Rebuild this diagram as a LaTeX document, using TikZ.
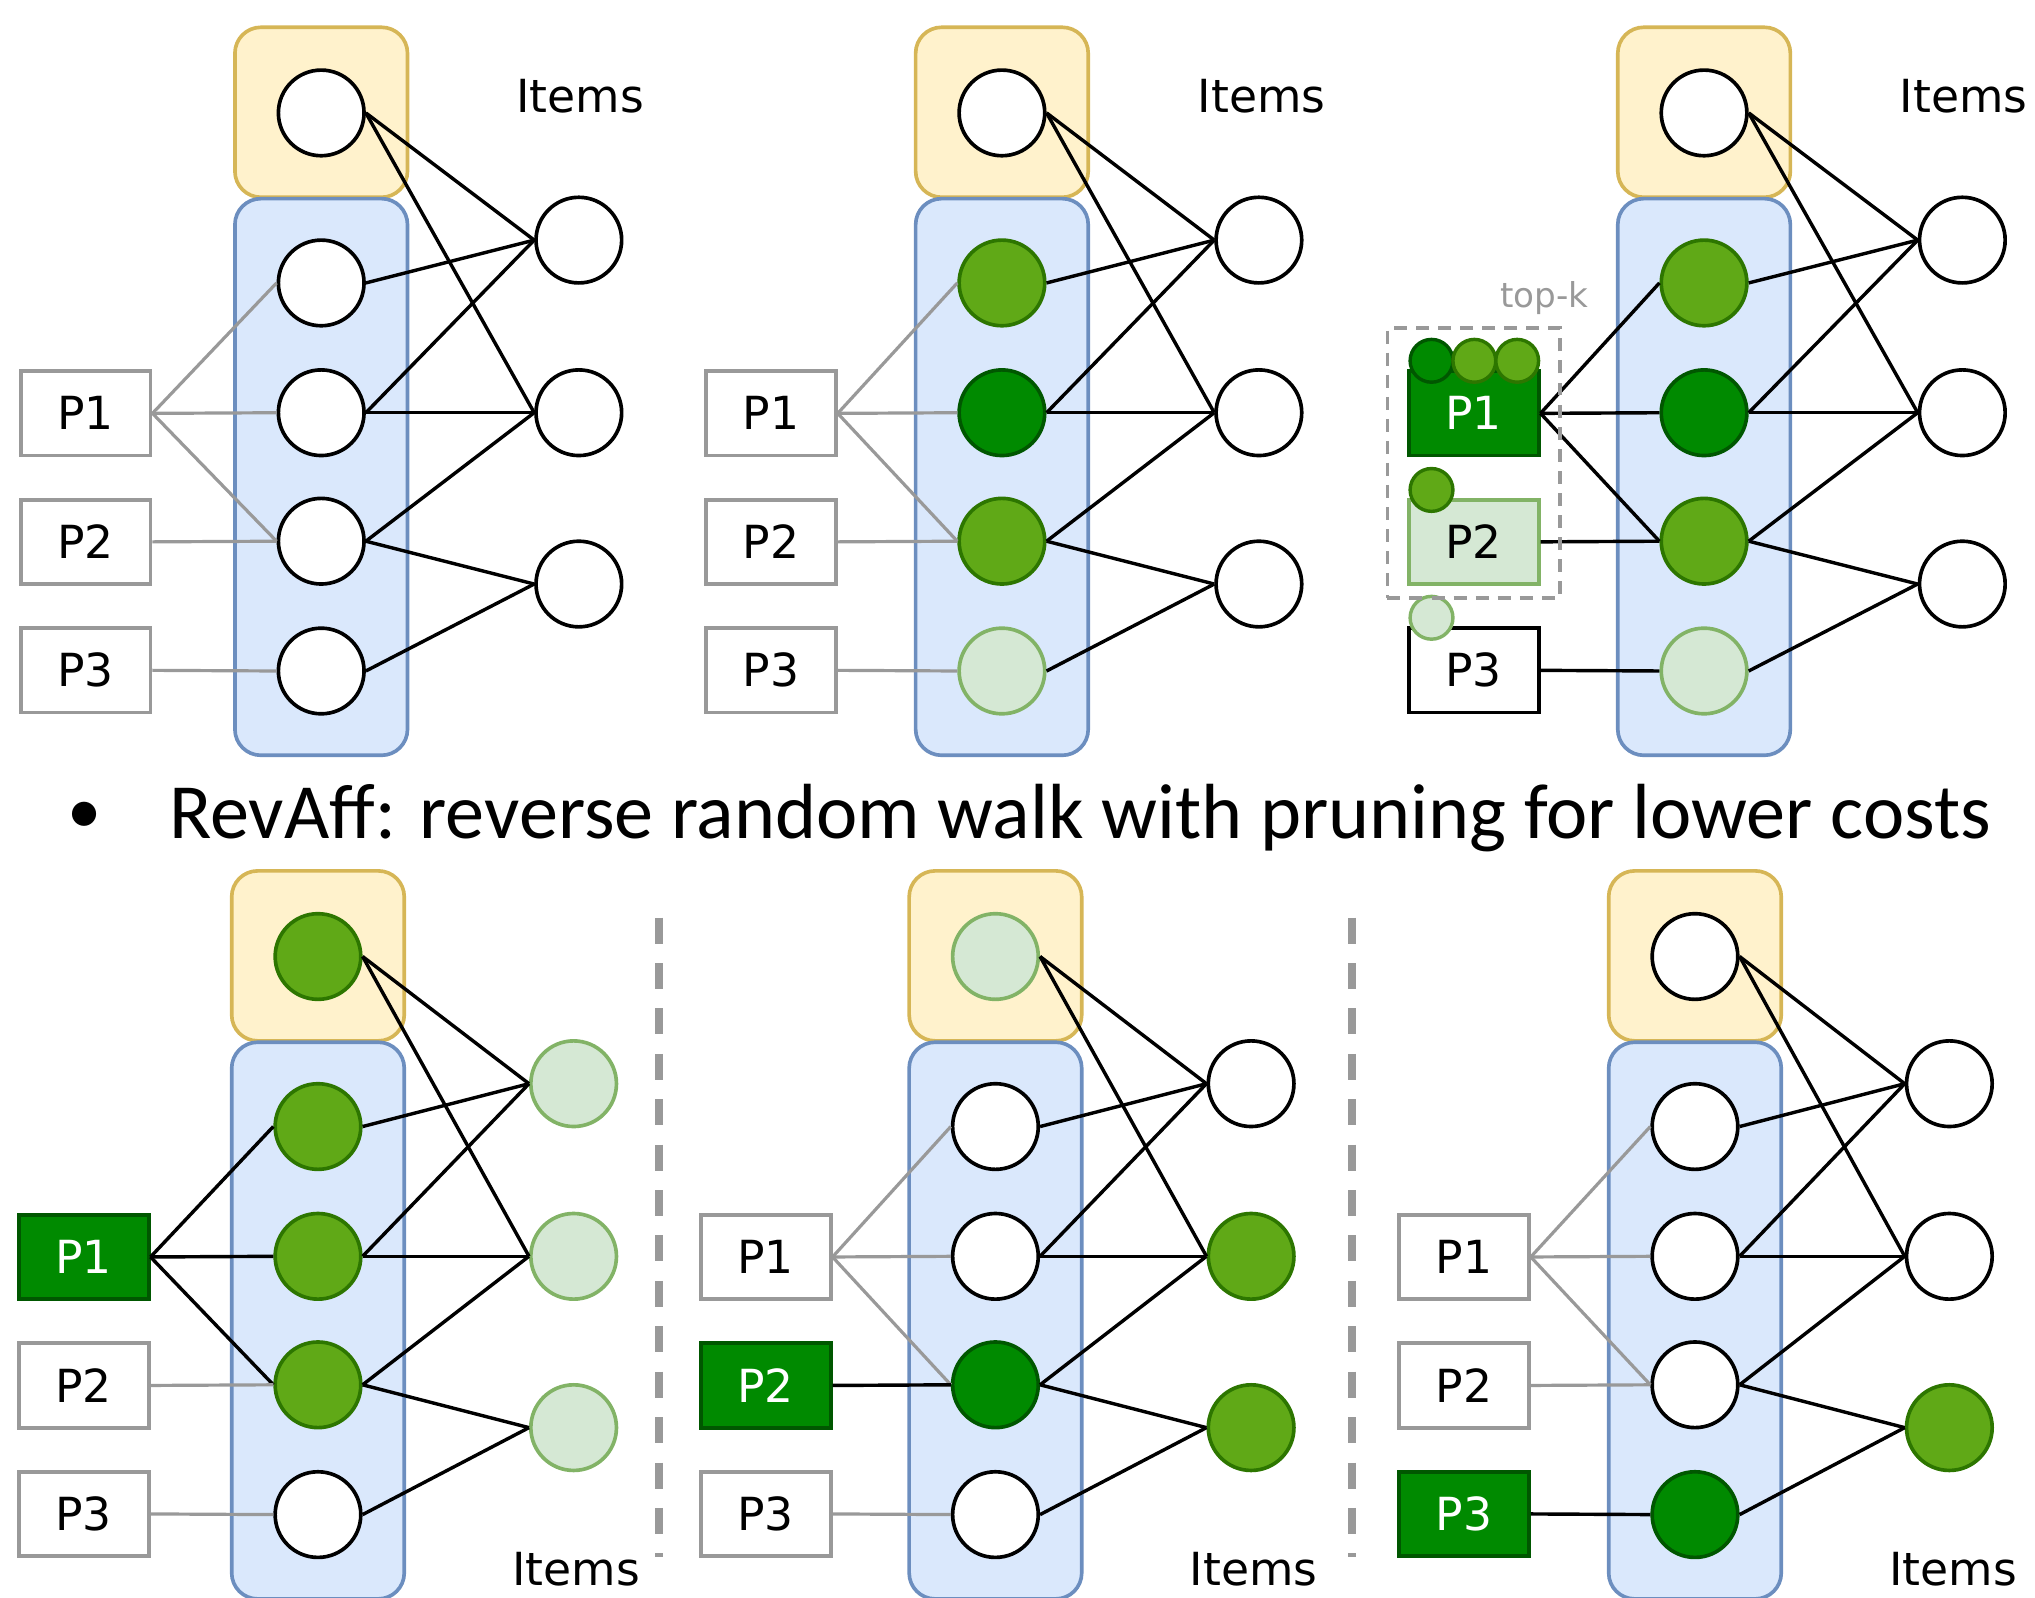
\documentclass[tikz,border=0pt]{standalone}
\usepackage{fontspec}
\setmainfont{Carlito}
\newfontfamily\cfont{DejaVu Sans}
\definecolor{ylf}{HTML}{FFF2CC}
\definecolor{yls}{HTML}{D6B656}
\definecolor{blf}{HTML}{DAE8FC}
\definecolor{bls}{HTML}{6C8EBF}
\definecolor{dgf}{HTML}{008A00}
\definecolor{dgs}{HTML}{005700}
\definecolor{mgf}{HTML}{60A917}
\definecolor{mgs}{HTML}{2D7600}
\definecolor{lgf}{HTML}{D5E8D4}
\definecolor{lgs}{HTML}{82B366}
\definecolor{grc}{HTML}{999999}
\tikzset{
  ybox/.style={rectangle, draw=yls, fill=ylf, rounded corners=0.4cm, minimum width=2.66cm, minimum height=2.62cm, line width=1.6pt, inner sep=0pt},
  bbox/.style={rectangle, draw=bls, fill=blf, rounded corners=0.4cm, minimum width=2.66cm, minimum height=8.58cm, line width=1.6pt, inner sep=0pt},
  wn/.style={circle, draw=black, fill=white, minimum size=1.32cm, inner sep=0pt, line width=1.6pt},
  mg/.style={fill=mgf, draw=mgs},
  dg/.style={fill=dgf, draw=dgs},
  lg/.style={fill=lgf, draw=lgs},
  sm/.style={circle, minimum size=0.66cm, inner sep=0pt, line width=1.5pt},
  pbox/.style={rectangle, draw=grc, fill=white, minimum width=2cm, minimum height=1.3cm, inner sep=0pt, line width=1.7pt, font=\cfont\fontsize{20}{24}\selectfont},
  pdg/.style={fill=dgf, draw=dgs, text=white},
  plg/.style={fill=lgf, draw=lgs},
  pblk/.style={draw=black},
  bedge/.style={draw=black, line width=1.5pt},
  gedge/.style={draw=grc, line width=1.4pt},
  lbl/.style={font=\cfont\fontsize{20}{24}\selectfont, inner sep=0pt},
  divider/.style={draw=grc, line width=3.4pt, dash pattern=on 0.4cm off 0.3cm},
}
\newcommand\resetpanel{%
  \tikzset{col0/.style={}, col1/.style={}, col2/.style={}, col3/.style={}, col4/.style={},
    it1/.style={}, it2/.style={}, it3/.style={},
    pb1/.style={}, pb2/.style={}, pb3/.style={},
    pe1/.style={gedge}, pe2/.style={gedge}, pe3/.style={gedge}}}
% #1 prefix, #2 P-box centre x, #3 column x, #4 item x, #5 vertical offset
\newcommand\mypanel[5]{%
  \node[ybox] (#1y) at (#3, 86.5+#5) {};
  \node[bbox] (#1b) at (#3, 367.5+#5) {};
  \node[wn, col0] (#1c0) at (#3, 87+#5) {};
  \node[wn, col1] (#1c1) at (#3, 218+#5) {};
  \node[wn, col2] (#1c2) at (#3, 318+#5) {};
  \node[wn, col3] (#1c3) at (#3, 417+#5) {};
  \node[wn, col4] (#1c4) at (#3, 517+#5) {};
  \node[wn, it1] (#1i1) at (#4, 185+#5) {};
  \node[wn, it2] (#1i2) at (#4, 318+#5) {};
  \node[wn, it3] (#1i3) at (#4, 450+#5) {};
  \node[pbox, pb1] (#1p1) at (#2, 318.5+#5) {P1};
  \node[pbox, pb2] (#1p2) at (#2, 417.5+#5) {P2};
  \node[pbox, pb3] (#1p3) at (#2, 516.5+#5) {P3};
  \draw[bedge] (#1c0.east) -- (#1i1.west);
  \draw[bedge] (#1c0.east) -- (#1i2.west);
  \draw[bedge] (#1c1.east) -- (#1i1.west);
  \draw[bedge] (#1c2.east) -- (#1i1.west);
  \draw[bedge] (#1c2.east) -- (#1i2.west);
  \draw[bedge] (#1c3.east) -- (#1i2.west);
  \draw[bedge] (#1c3.east) -- (#1i3.west);
  \draw[bedge] (#1c4.east) -- (#1i3.west);
  \draw[pe1] (#1p1.east) -- (#1c1.west);
  \draw[pe1] (#1p1.east) -- (#1c2.west);
  \draw[pe1] (#1p1.east) -- (#1c3.west);
  \draw[pe2] (#1p2.east) -- (#1c3.west);
  \draw[pe3] (#1p3.east) -- (#1c4.west);
}
\begin{document}
\begin{tikzpicture}[x=0.02cm, y=-0.02cm]
\useasboundingbox (0,0) rectangle (1568,1231);
% ---------- top row ----------
\resetpanel
\mypanel{A}{66}{247.5}{446}{0}
\node[lbl] (Alab) at (447,74) {Items};

\resetpanel
\tikzset{col1/.style={mg}, col2/.style={dg}, col3/.style={mg}, col4/.style={lg}}
\mypanel{B}{594}{772}{970}{0}
\node[lbl] (Blab) at (972,74) {Items};

\resetpanel
\tikzset{col1/.style={mg}, col2/.style={dg}, col3/.style={mg}, col4/.style={lg},
  pb1/.style={pdg}, pb2/.style={plg}, pb3/.style={pblk},
  pe1/.style={bedge}, pe2/.style={bedge}, pe3/.style={bedge}}
\mypanel{C}{1135.5}{1313}{1512}{0}
\node[lbl] (Clab) at (1513,74) {Items};
\node[sm, dg] (Cs1) at (1103,278) {};
\node[sm, mg] (Cs2) at (1136,278) {};
\node[sm, mg] (Cs3) at (1169,278) {};
\node[sm, mg] (Cs4) at (1103,377.5) {};
\node[sm, lg] (Cs5) at (1103,476) {};
\node[draw=grc, line width=1.6pt, dash pattern=on 0.2cm off 0.14cm, minimum width=2.66cm, minimum height=4.16cm, inner sep=0pt] (Ctop) at (1135.5,356.7) {};
\node[font=\cfont\fontsize{15}{18}\selectfont, text=grc, inner sep=0pt] (Ctk) at (1190,230) {top-k};

% ---------- bullet ----------
\node[inner sep=0pt, font=\fontsize{30}{36}\selectfont] (bul) at (65,630) {•};
\node[anchor=west, inner sep=0pt, font=\fontsize{34.3}{40}\selectfont] (title) at (130,630) {RevAff: reverse random walk with pruning for lower costs};

% ---------- bottom row ----------
\resetpanel
\tikzset{col0/.style={mg}, col1/.style={mg}, col2/.style={mg}, col3/.style={mg},
  it1/.style={lg}, it2/.style={lg}, it3/.style={lg},
  pb1/.style={pdg}, pe1/.style={bedge}}
\mypanel{D}{64.5}{245}{442}{650}
\node[lbl] (Dlab) at (444,1209) {Items};

\resetpanel
\tikzset{col0/.style={lg}, col3/.style={dg}, it2/.style={mg}, it3/.style={mg},
  pb2/.style={pdg}, pe2/.style={bedge}}
\mypanel{E}{590}{767}{964}{650}
\node[lbl] (Elab) at (966,1209) {Items};

\resetpanel
\tikzset{col4/.style={dg}, it3/.style={mg}, pb3/.style={pdg}, pe3/.style={bedge}}
\mypanel{F}{1128}{1306}{1502}{650}
\node[lbl] (Flab) at (1505,1209) {Items};

% ---------- dividers ----------
\coordinate (d1a) at (508,707);
\coordinate (d1b) at (508,1200);
\coordinate (d2a) at (1042,707);
\coordinate (d2b) at (1042,1200);
\draw[divider] (d1a) -- (d1b);
\draw[divider] (d2a) -- (d2b);
\end{tikzpicture}
\end{document}
